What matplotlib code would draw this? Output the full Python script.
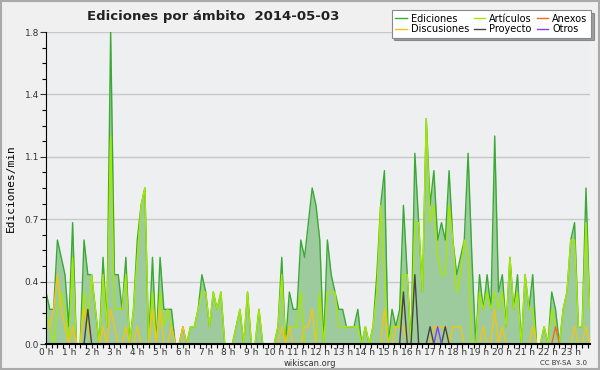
import numpy as np
import matplotlib
matplotlib.use("Agg")
import matplotlib.pyplot as plt
from matplotlib.ticker import MultipleLocator, FixedLocator

# ------------------ DATA (edits/min, 10-minute steps) ------------------

ediciones = [0.3, 0.2, 0.2, 0.6, 0.5, 0.4, 0.1, 0.7, 0, 0, 0.6, 0.4, 0.4, 0.2, 0, 0.5, 0.1, 1.8,
             0.4, 0.4, 0.2, 0.5, 0, 0.2, 0.6, 0.8, 0.9, 0, 0.5, 0, 0.5, 0.2, 0.2, 0.2, 0, 0,
             0.1, 0, 0.1, 0.1, 0.2, 0.4, 0.3, 0.1, 0.3, 0.2, 0.3, 0, 0, 0, 0.1, 0.2, 0, 0.3,
             0, 0, 0.2, 0, 0, 0, 0, 0.1, 0.5, 0, 0.3, 0.2, 0.2, 0.6, 0.5, 0.7, 0.9, 0.8,
             0.6, 0, 0.6, 0.4, 0.3, 0.2, 0.2, 0.1, 0.1, 0.1, 0.2, 0, 0.1, 0, 0.1, 0.4, 0.8, 1.0,
             0, 0.2, 0.1, 0.2, 0.8, 0.4, 0, 1.1, 0.7, 0.3, 1.3, 0.8, 1.0, 0.6, 0.7, 0.6, 1.0, 0.6,
             0.4, 0.5, 0.6, 1.1, 0.5, 0, 0.4, 0.2, 0.4, 0.2, 1.2, 0.3, 0.4, 0.1, 0.5, 0.2, 0.4, 0,
             0.4, 0.2, 0.4, 0, 0, 0.1, 0, 0.3, 0.2, 0, 0.2, 0.3, 0.6, 0.7, 0.1, 0.1, 0.9, 0.2]

articulos = [0.2, 0.1, 0, 0.2, 0.3, 0.2, 0, 0.5, 0, 0, 0.3, 0.1, 0.4, 0.2, 0, 0.4, 0.1, 1.2,
             0.2, 0.2, 0.2, 0.4, 0, 0.2, 0.5, 0.8, 0.9, 0, 0.3, 0, 0.3, 0.1, 0.2, 0.1, 0, 0,
             0, 0, 0.1, 0.1, 0.2, 0.3, 0.3, 0.1, 0.3, 0.2, 0.3, 0, 0, 0, 0.1, 0.2, 0, 0.3,
             0, 0, 0.2, 0, 0, 0, 0, 0.1, 0.4, 0, 0.1, 0.1, 0.1, 0.3, 0, 0, 0, 0,
             0.3, 0, 0.3, 0.3, 0.3, 0.1, 0.1, 0.1, 0.1, 0.1, 0.1, 0, 0.1, 0, 0.1, 0.3, 0.8, 0.4,
             0, 0.1, 0.1, 0.1, 0.4, 0.4, 0, 0.7, 0.7, 0.3, 1.3, 0.7, 0.8, 0.5, 0.4, 0.4, 0.8, 0.6,
             0.3, 0.4, 0.6, 0.5, 0, 0, 0.3, 0.2, 0.3, 0.2, 0.3, 0.2, 0.3, 0.1, 0.5, 0.2, 0.3, 0,
             0.4, 0.2, 0.2, 0, 0, 0.1, 0, 0.2, 0.1, 0, 0.2, 0.3, 0.6, 0.6, 0.1, 0.1, 0.7, 0.2]

discusiones = [0.1, 0.1, 0.2, 0.4, 0.2, 0.1, 0, 0.1, 0, 0, 0.2, 0.1, 0, 0, 0, 0.1, 0, 0.2,
               0.1, 0, 0, 0.1, 0, 0, 0.1, 0, 0, 0, 0.2, 0, 0.2, 0, 0, 0.1, 0, 0,
               0.1, 0, 0, 0, 0, 0, 0, 0, 0, 0, 0, 0, 0, 0, 0, 0, 0, 0,
               0, 0, 0, 0, 0, 0, 0, 0, 0.1, 0, 0.1, 0, 0, 0, 0.1, 0.1, 0.2, 0,
               0, 0, 0, 0, 0, 0, 0, 0, 0, 0, 0, 0, 0, 0, 0, 0, 0, 0.2,
               0, 0, 0.1, 0.1, 0.1, 0, 0, 0, 0, 0, 0, 0, 0.1, 0.1, 0.1, 0.1, 0, 0.1,
               0.1, 0.1, 0, 0, 0, 0, 0, 0.1, 0, 0, 0.2, 0, 0.1, 0, 0, 0, 0, 0,
               0, 0, 0.1, 0, 0, 0, 0, 0, 0, 0, 0, 0, 0, 0.1, 0, 0, 0.1, 0]

# sparse series: {10-minute index: value}
proyecto_pts = {11: 0.2, 94: 0.3, 97: 0.4, 101: 0.1, 105: 0.1}
anexos_pts = {134: 0.1}
otros_pts = {103: 0.1}

n = len(ediciones)
proyecto = np.zeros(n)
anexos = np.zeros(n)
otros = np.zeros(n)
for k, v in proyecto_pts.items():
    proyecto[k] = v
for k, v in anexos_pts.items():
    anexos[k] = v
for k, v in otros_pts.items():
    otros[k] = v

t = np.arange(n) / 6.0  # hours

hour_labels = ['{} h'.format(h) for h in range(24)]
y_ticks = [0, 0.36, 0.72, 1.08, 1.44, 1.8]
y_labels = ['0.0', '0.4', '0.7', '1.1', '1.4', '1.8']

# ------------------ PLOT ------------------

fig = plt.figure(figsize=(6, 3.7), dpi=100, facecolor='#f0f0f0')
ax = fig.add_axes([46/600, 26/370, 544/600, 312/370])
ax.set_facecolor('#eeeff1')

ax.fill_between(t, ediciones, 0, color='#9ecb9e', lw=0)
ax.plot(t, ediciones, color='#3aaa35', lw=1.0, label='Ediciones')
ax.plot(t, articulos, color='#a6e800', lw=1.0, label='Artículos')
ax.plot(t, discusiones, color='#f2c418', lw=1.0, label='Discusiones')
ax.plot(t, anexos, color='#f26a1b', lw=1.0, label='Anexos')
ax.plot(t, proyecto, color='#444444', lw=1.0, label='Proyecto')
ax.plot(t, otros, color='#8b3cf0', lw=1.0, label='Otros')

ax.set_xlim(0, t[-1] + 0.01)
ax.set_ylim(0, 1.8)

ax.yaxis.set_major_locator(FixedLocator(y_ticks))
ax.set_yticklabels(y_labels)
ax.yaxis.set_minor_locator(MultipleLocator(0.09))
ax.xaxis.set_major_locator(FixedLocator(range(24)))
ax.set_xticklabels(hour_labels)
ax.xaxis.set_minor_locator(MultipleLocator(0.25))

ax.grid(axis='y', color='#c8c8c8', lw=1.0)
ax.set_axisbelow(True)

for s in ['top', 'right']:
    ax.spines[s].set_visible(False)
ax.spines['left'].set_color('black')
ax.spines['bottom'].set_color('black')
ax.spines['bottom'].set_linewidth(1.5)

ax.tick_params(axis='both', labelsize=6.5, colors='#333333', length=4, width=0.8, pad=1)
ax.tick_params(axis='both', which='minor', length=3, width=0.8)
ax.tick_params(axis='x', which='major', length=3, pad=0)

ax.set_ylabel('Ediciones/min', fontsize=8, family='DejaVu Sans Mono', labelpad=6)

fig.text(0.145, 0.955, 'Ediciones por ámbito  2014-05-03', fontsize=9.5, fontweight='bold',
         ha='left', va='center', color='#222222')
fig.text(0.517, 0.018, 'wikiscan.org', fontsize=6, ha='center', va='center', color='#333333')
fig.text(0.978, 0.018, 'CC BY-SA  3.0', fontsize=5, ha='right', va='center', color='#333333')

handles, labels = ax.get_legend_handles_labels()
order = ['Ediciones', 'Discusiones', 'Artículos', 'Proyecto', 'Anexos', 'Otros']
hl = dict(zip(labels, handles))
leg = fig.legend([hl[k] for k in order], order, ncol=3, loc='upper right',
                 bbox_to_anchor=(0.985, 0.972), fontsize=7, frameon=True, fancybox=False,
                 shadow=True, handlelength=1.2, handletextpad=0.4, columnspacing=0.5,
                 labelspacing=0.05, borderpad=0.35, borderaxespad=0)
leg.get_frame().set_edgecolor('#888888')
leg.get_frame().set_linewidth(0.8)

# outer border
fig.patches.append(plt.Rectangle((0.002, 0.003), 0.996, 0.994, transform=fig.transFigure,
                                 fill=False, edgecolor='#aaaaaa', lw=1.5))

fig.savefig('out.png', dpi=100, facecolor=fig.get_facecolor())
